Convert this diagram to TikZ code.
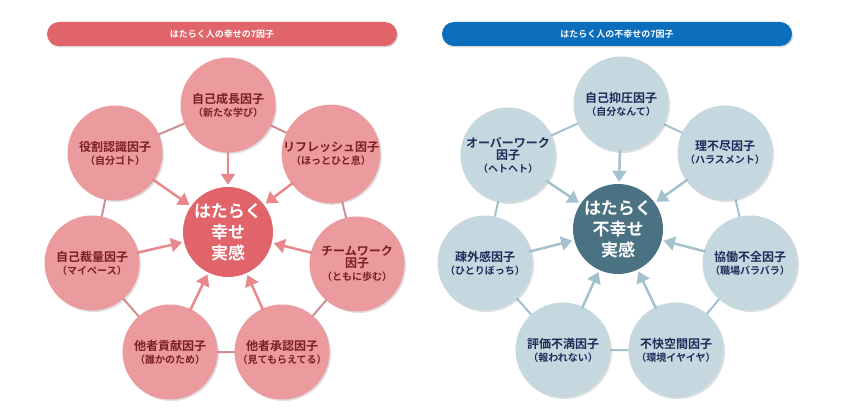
\documentclass[tikz,border=0pt]{standalone}
\usepackage{fontspec}
\setmainfont{Noto Sans CJK JP}
\newfontfamily\bfj{Noto Sans CJK JP Bold}
\usetikzlibrary{arrows.meta,shadows}
\definecolor{pc}{HTML}{EB9A9D}
\definecolor{pd}{HTML}{E0646A}
\definecolor{pt}{HTML}{7B1F23}
\definecolor{pa}{HTML}{E8878C}
\definecolor{bc}{HTML}{C5D8E0}
\definecolor{bd}{HTML}{4A7282}
\definecolor{bt}{HTML}{1F2A5A}
\definecolor{ba}{HTML}{A3C2CD}
\definecolor{bb}{HTML}{0A6EBD}
\tikzset{
 outer/.style={circle,minimum size=95pt,inner sep=0pt,align=center,font=\fontsize{12}{14}\bfj,drop shadow={shadow xshift=1.5pt,shadow yshift=-1.5pt,opacity=0.25}},
 core/.style={circle,minimum size=90pt,inner sep=0pt,align=center,text=white,font=\fontsize{17}{21}\bfj},
 banner/.style={rounded corners=12pt,minimum width=350pt,minimum height=24pt,text=white,font=\fontsize{9}{11}\bfj,drop shadow={shadow xshift=1pt,shadow yshift=-1.5pt,opacity=0.3}},
 ring/.style={line width=2pt},
 arr/.style={line width=2.5pt,-{Triangle[length=11pt,width=14pt]},shorten >=2pt,shorten <=-2pt},
}
\newcommand\subt[1]{\\[-1pt]{\fontsize{10}{12}\selectfont #1}}
\begin{document}
\begin{tikzpicture}[x=1pt,y=-1pt]
\useasboundingbox (0,0) rectangle (846,420);
\fill[white] (0,0) rectangle (846,420);
% LEFT
\node[banner,fill=pd] (lb) at (222,34) {はたらく人の幸せの7因子};
\foreach \a/\b in {l1/l2,l2/l3,l3/l4,l4/l5,l5/l6,l6/l7,l7/l1}{}
\coordinate (L1) at (228,105);\coordinate (L2) at (331,154);\coordinate (L3) at (357,264);
\coordinate (L4) at (282,352);\coordinate (L5) at (170,352);\coordinate (L6) at (92,263);\coordinate (L7) at (115,153);
\draw[ring,pc!85!black!90] (L1)--(L2)--(L3)--(L4)--(L5)--(L6)--(L7)--cycle;
\node[outer,fill=pc,text=pt] (l1) at (L1) {自己成長因子\subt{（新たな学び）}};
\node[outer,fill=pc,text=pt] (l2) at (L2) {リフレッシュ因子\subt{（ほっとひと息）}};
\node[outer,fill=pc,text=pt] (l3) at (L3) {チームワーク\\[-2pt]因子\subt{（ともに歩む）}};
\node[outer,fill=pc,text=pt] (l4) at (L4) {他者承認因子\subt{（見てもらえてる）}};
\node[outer,fill=pc,text=pt] (l5) at (L5) {他者貢献因子\subt{（誰かのため）}};
\node[outer,fill=pc,text=pt] (l6) at (L6) {自己裁量因子\subt{（マイペース）}};
\node[outer,fill=pc,text=pt] (l7) at (L7) {役割認識因子\subt{（自分ゴト）}};
\node[core,fill=pd] (lc) at (228,232) {はたらく\\幸せ\\実感};
\foreach \n in {l1,l2,l3,l4,l5,l6,l7}{\draw[arr,pa] (\n) -- (lc);}
% RIGHT
\node[banner,fill=bb] (rb) at (617,34) {はたらく人の不幸せの7因子};
\coordinate (R1) at (621,104);\coordinate (R2) at (725,153);\coordinate (R3) at (750,263);
\coordinate (R4) at (676,350);\coordinate (R5) at (563,350);\coordinate (R6) at (485,263);\coordinate (R7) at (508,155);
\draw[ring,ba] (R1)--(R2)--(R3)--(R4)--(R5)--(R6)--(R7)--cycle;
\node[outer,fill=bc,text=bt] (r1) at (R1) {自己抑圧因子\subt{（自分なんて）}};
\node[outer,fill=bc,text=bt] (r2) at (R2) {理不尽因子\subt{（ハラスメント）}};
\node[outer,fill=bc,text=bt] (r3) at (R3) {協働不全因子\subt{（職場バラバラ）}};
\node[outer,fill=bc,text=bt] (r4) at (R4) {不快空間因子\subt{（環境イヤイヤ）}};
\node[outer,fill=bc,text=bt] (r5) at (R5) {評価不満因子\subt{（報われない）}};
\node[outer,fill=bc,text=bt] (r6) at (R6) {疎外感因子\subt{（ひとりぼっち）}};
\node[outer,fill=bc,text=bt] (r7) at (R7) {オーバーワーク\\[-2pt]因子\subt{（ヘトヘト）}};
\node[core,fill=bd] (rc) at (618,229) {はたらく\\不幸せ\\実感};
\foreach \n in {r1,r2,r3,r4,r5,r6,r7}{\draw[arr,ba] (\n) -- (rc);}
\end{tikzpicture}
\end{document}
